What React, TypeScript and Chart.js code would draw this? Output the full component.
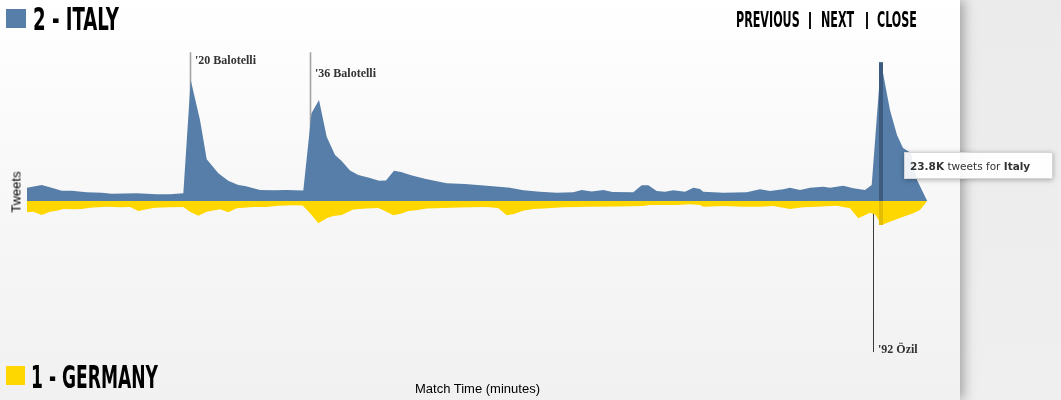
import React, { useEffect, useRef } from "react";
import { Chart, registerables } from "chart.js";

Chart.register(...registerables);

// ---- DATA ----
const italyMinutes = [0, 1.84, 3.08, 4.33, 5.58, 7.45, 9.33, 10.58, 13.7, 16.19, 17.86, 19.52, 20.44, 21.6, 22.44, 23.89, 25.13, 26.38, 27.22, 29.09, 30.75, 32.43, 34.5, 35.52, 36.46, 37.42, 38.46, 39.29, 40.33, 41.37, 42.83, 43.95, 44.82, 45.82, 46.7, 48.07, 49.82, 52.4, 54.69, 57.81, 60.31, 61.97, 64.05, 66.14, 68.21, 69.26, 70.51, 71.96, 73.1, 75.7, 76.75, 77.58, 78.62, 79.66, 80.7, 82.16, 83.2, 84.03, 84.44, 86.94, 89.86, 91.52, 92.77, 94.43, 95.27, 96.52, 97.77, 99.43, 100.26, 101.92, 103.17, 104.63, 105.47, 106.63, 107.75, 108.63, 109.38, 110.38, 111.13, 112.37];
const italyTweetsK = [2.28, 2.74, 2.28, 1.77, 1.77, 1.49, 1.42, 1.25, 1.32, 1.15, 1.15, 1.32, 20.74, 13.89, 7.15, 4.75, 3.48, 2.74, 2.57, 1.89, 1.83, 1.89, 1.8, 15.04, 17.32, 11.02, 7.89, 6.86, 5.23, 4.46, 3.94, 3.48, 3.51, 5.19, 4.97, 4.37, 3.77, 3.03, 2.91, 2.57, 2.26, 1.83, 1.59, 1.42, 1.49, 1.89, 1.63, 1.89, 1.54, 1.49, 2.69, 2.69, 1.71, 1.59, 1.83, 1.59, 2.28, 2.06, 1.59, 1.42, 1.49, 2.01, 1.71, 2.01, 2.28, 1.89, 2.28, 2.45, 2.28, 2.62, 2.18, 1.89, 2.74, 23.8, 15.6, 11.32, 9.09, 8.23, 3.6, 0.09];

const germanyMinutes = [0, 0.79, 1.84, 2.87, 3.71, 4.53, 5.78, 6.83, 7.87, 9.95, 11.61, 12.86, 13.9, 14.95, 15.98, 17.86, 19.52, 20.35, 21.39, 22.44, 24.1, 25.13, 26.18, 28.26, 29.93, 31.38, 33.25, 34.42, 35.34, 36.37, 37.42, 38.24, 39.29, 40.74, 42.41, 43.86, 44.7, 45.74, 46.76, 47.61, 48.57, 49.91, 51.98, 54.06, 56.97, 57.81, 58.85, 59.9, 60.81, 62.05, 63.22, 64.47, 66.96, 70.3, 73.63, 76.95, 77.79, 81.12, 82.78, 84.03, 84.44, 86.94, 89.44, 91.52, 93.18, 95.27, 96.93, 98.6, 101.1, 102.76, 103.8, 105.26, 105.88, 106.72, 107.75, 109.41, 110.66, 111.5, 112.34];
const germanyTweetsK = [1.94, 1.83, 2.4, 1.83, 1.66, 1.37, 1.42, 1.37, 1.15, 0.98, 1.08, 1.03, 1.71, 1.42, 1.15, 1.08, 1.03, 1.83, 2.52, 1.83, 1.42, 1.94, 1.25, 1.03, 1.03, 0.81, 0.74, 0.77, 2.11, 3.82, 2.97, 2.57, 2.4, 1.46, 1.29, 1.2, 1.71, 2.43, 2.14, 1.71, 1.59, 1.29, 1.2, 1.11, 1.03, 1.08, 1.25, 2.43, 2.23, 1.63, 1.37, 1.29, 1.06, 0.98, 0.94, 0.86, 0.69, 0.69, 0.55, 0.69, 0.98, 0.86, 0.98, 0.98, 0.86, 1.37, 1.08, 0.98, 0.81, 1.25, 2.97, 2.01, 2.28, 4.11, 3.55, 2.69, 2.11, 1.54, 0.12];

const goalMinutes = [20.3, 35.3, 105.6];
const goalLabels = ["'20 Balotelli", "'36 Balotelli", "'92 Özil"];
const goalTeams = ["Italy", "Italy", "Germany"];

const teamNames = ["2 - ITALY", "1 - GERMANY"];
const navItems = ["PREVIOUS", "NEXT", "CLOSE"];
const yAxisTitle = "Tweets";
const xAxisTitle = "Match Time (minutes)";

// ---- STYLE ----
const ITALY_BLUE = "#567ea9";
const GERMANY_GOLD = "#ffd700";
const X_MAX = 112.5;
const Y_LIM = 27.6;
// label placement per goal, in tweet units (K)
const goalLayout = [
  { lineEnd: 25.5, labelAt: 23.5, color: "#a3a3a3", width: 1.6 },
  { lineEnd: 25.5, labelAt: 21.3, color: "#a3a3a3", width: 1.6 },
  { lineEnd: -25.9, labelAt: -26.1, color: "#3a3a3a", width: 1 },
];

const hoverIdx = italyTweetsK.indexOf(Math.max(...italyTweetsK));

function nearestGermanyIndex(m: number) {
  let best = 0;
  germanyMinutes.forEach((g, i) => {
    if (Math.abs(g - m) < Math.abs(germanyMinutes[best] - m)) best = i;
  });
  return best;
}

const overlayPlugin = {
  id: "matchOverlay",
  beforeDatasetsDraw(chart: any) {
    const { ctx, scales } = chart;
    const x = scales.x, y = scales.y;
    goalMinutes.forEach((m, i) => {
      const st = goalLayout[i];
      const px = Math.round(x.getPixelForValue(m)) + 0.5;
      ctx.save();
      ctx.strokeStyle = st.color;
      ctx.lineWidth = st.width;
      ctx.beginPath();
      ctx.moveTo(px, y.getPixelForValue(0));
      ctx.lineTo(px, y.getPixelForValue(st.lineEnd));
      ctx.stroke();
      ctx.restore();
    });
  },
  afterDatasetsDraw(chart: any) {
    const { ctx, scales } = chart;
    const x = scales.x, y = scales.y;
    // hover bar
    const hm = italyMinutes[hoverIdx];
    const gi = nearestGermanyIndex(hm);
    const hx = x.getPixelForValue(hm);
    const y0 = y.getPixelForValue(0);
    const yTop = y.getPixelForValue(italyTweetsK[hoverIdx]);
    const yBot = y.getPixelForValue(-germanyTweetsK[gi]);
    ctx.save();
    ctx.fillStyle = "#3d5b7e";
    ctx.fillRect(hx - 2, yTop, 4, y0 - yTop);
    ctx.fillStyle = "#e2bd00";
    ctx.fillRect(hx - 2, y0, 4, yBot - y0);
    ctx.restore();
    // goal labels
    ctx.save();
    ctx.font = 'bold 12px "Liberation Serif", "DejaVu Serif", serif';
    ctx.fillStyle = "#333333";
    ctx.textBaseline = "alphabetic";
    goalMinutes.forEach((m, i) => {
      const st = goalLayout[i];
      const px = Math.round(x.getPixelForValue(m));
      ctx.fillText(goalLabels[i], px + 5, y.getPixelForValue(st.labelAt));
    });
    ctx.restore();
  },
};

const condensed = "'Liberation Sans Narrow', 'DejaVu Sans Condensed', 'Arial Narrow', sans-serif";

function Heading(props: { text: string; left: number; top: number; size: number; scale: number }) {
  return (
    <div
      style={{
        position: "absolute",
        left: props.left,
        top: props.top,
        fontFamily: condensed,
        fontWeight: 700,
        fontSize: props.size,
        lineHeight: props.size + "px",
        color: "#000",
        whiteSpace: "nowrap",
        transform: `scaleX(${props.scale})`,
        transformOrigin: "left top",
      }}
    >
      {props.text}
    </div>
  );
}

export default function App() {
  const canvasRef = useRef<HTMLCanvasElement | null>(null);
  const tipRef = useRef<HTMLDivElement | null>(null);

  useEffect(() => {
    if (!canvasRef.current) return;
    const chart = new Chart(canvasRef.current, {
      type: "line",
      data: {
        datasets: [
          {
            label: "Italy",
            data: italyMinutes.map((m, i) => ({ x: m, y: italyTweetsK[i] })),
            backgroundColor: ITALY_BLUE,
            borderWidth: 0,
            pointRadius: 0,
            fill: "origin",
            tension: 0,
          },
          {
            label: "Germany",
            data: germanyMinutes.map((m, i) => ({ x: m, y: -germanyTweetsK[i] })),
            backgroundColor: GERMANY_GOLD,
            borderWidth: 0,
            pointRadius: 0,
            fill: "origin",
            tension: 0,
          },
        ],
      },
      options: {
        animation: false,
        responsive: false,
        devicePixelRatio: 1,
        events: [],
        layout: { padding: { left: 27, right: 133, top: 40, bottom: 38 } },
        plugins: { legend: { display: false }, tooltip: { enabled: false } },
        scales: {
          x: { type: "linear", min: 0, max: X_MAX, display: false },
          y: { type: "linear", min: -Y_LIM, max: Y_LIM, display: false },
        },
      },
      plugins: [overlayPlugin],
    });
    if (tipRef.current) {
      const px = chart.scales.x.getPixelForValue(italyMinutes[hoverIdx]);
      const y0 = chart.scales.y.getPixelForValue(0);
      tipRef.current.style.left = px + 23 + "px";
      tipRef.current.style.top = y0 - 49 + "px";
      tipRef.current.style.display = "flex";
    }
    return () => chart.destroy();
  }, []);

  const navLeft = [736, 820.5, 876.5];
  const pipeLeft = [808.5, 866];

  return (
    <div
      style={{
        position: "fixed",
        left: 0,
        top: 0,
        width: 1061,
        height: 400,
        overflow: "hidden",
        background: "linear-gradient(#ebebeb, #efefef)",
      }}
    >
      <div
        style={{
          position: "absolute",
          left: 0,
          top: 0,
          width: 960,
          height: 400,
          background: "linear-gradient(#ffffff 0%, #f8f8f8 45%, #f1f1f1 100%)",
          boxShadow: "3px 0 12px rgba(0,0,0,0.35)",
        }}
      />
      <canvas ref={canvasRef} width={1061} height={400} style={{ position: "absolute", left: 0, top: 0, display: "block" }} />

      <div style={{ position: "absolute", left: 6, top: 9, width: 20, height: 19, background: ITALY_BLUE }} />
      <Heading text={teamNames[0]} left={33} top={2.5} size={32} scale={0.63} />
      <div style={{ position: "absolute", left: 6, top: 366, width: 19, height: 19, background: GERMANY_GOLD }} />
      <Heading text={teamNames[1]} left={31} top={361} size={32} scale={0.595} />

      {navItems.map((t, i) => (
        <Heading key={t} text={t} left={navLeft[i]} top={9.5} size={21} scale={0.59} />
      ))}
      {pipeLeft.map((l, i) => (
        <div key={i} style={{ position: "absolute", left: l, top: 12, width: 2, height: 17, background: "#111" }} />
      ))}

      <div
        style={{
          position: "absolute",
          left: 9,
          top: 192,
          width: 0,
          height: 0,
        }}
      >
        <div
          style={{
            position: "absolute",
            left: 0,
            top: 0,
            transform: "translate(-50%, -50%) rotate(-90deg)",
            transformOrigin: "center",
            fontFamily: "'Liberation Sans', Arial, sans-serif",
            fontSize: 13,
            lineHeight: "15px",
            color: "#000",
            whiteSpace: "nowrap",
            marginLeft: 7,
          }}
        >
          {yAxisTitle}
        </div>
      </div>
      <div
        style={{
          position: "absolute",
          left: 27,
          width: 901,
          top: 381,
          textAlign: "center",
          fontFamily: "'Liberation Sans', Arial, sans-serif",
          fontSize: 13,
          lineHeight: "15px",
          color: "#000",
        }}
      >
        {xAxisTitle}
      </div>

      <div
        ref={tipRef}
        style={{
          position: "absolute",
          display: "none",
          alignItems: "center",
          width: 149,
          height: 27,
          boxSizing: "border-box",
          paddingLeft: 5,
          background: "rgba(255,255,255,0.9)",
          border: "1px solid #d6d6d6",
          boxShadow: "0 1px 5px rgba(0,0,0,0.3)",
          fontFamily: "'DejaVu Sans', Verdana, sans-serif",
          fontSize: 10.5,
          color: "#333",
          whiteSpace: "nowrap",
        }}
      >
        <b>{italyTweetsK[hoverIdx].toFixed(1)}K</b>&nbsp;tweets for&nbsp;<b>{goalTeams[0]}</b>
      </div>
    </div>
  );
}
